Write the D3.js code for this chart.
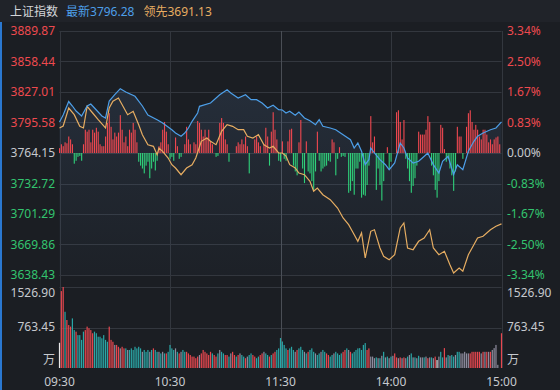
<!DOCTYPE html>
<html>
<head>
<meta charset="utf-8">
<script src="https://cdn.jsdelivr.net/npm/d3@7"></script>
<style>
html,body{margin:0;padding:0;background:#1b1e23;}
svg{display:block;font-family:"Noto Sans","Noto Sans CJK SC",sans-serif;}
</style>
</head>
<body>
<svg id="chart" width="560" height="390"></svg>
<script>
// ---- data ----
var indexName = "上证指数";
var lastLabel = "最新", lastValue = "3796.28";
var leadLabel = "领先", leadValueText = "3691.13";
var baseClose = 3764.15;

var timeTicks = [0, 60, 120, 180, 240];
var timeLabels = ["09:30", "10:30", "11:30", "14:00", "15:00"];
var priceTicks = [3889.87, 3858.44, 3827.01, 3795.58, 3764.15, 3732.72, 3701.29, 3669.86, 3638.43];
var pctLabels = ["3.34%", "2.50%", "1.67%", "0.83%", "0.00%", "-0.83%", "-1.67%", "-2.50%", "-3.34%"];
var volTicks = [1526.90, 763.45];
var volTickLabels = ["1526.90", "763.45"];
var volUnit = "万";

// index line (minute from 09:30, value)
var indexMinutes = [0,2,5,7,9,12,15,17,19,23,25,27,30,33,36,41,45,48,53,56,61,63,66,68,70,72,75,76,82,87,91,93,97,101,104,107,110,113,116,119,
  121,123,125,128,130,133,136,139,141,143,147,150,154,158,160,162,164,166,168,169,171,174,177,179,182,185,187,189,192,195,197,200,203,206,208,211,214,216,219,222,225,227,230,234,237,240];
var indexValues = [3796.10,3803.31,3817.22,3812.58,3807.43,3802.28,3812.58,3814.64,3810.52,3802.28,3800.22,3817.74,3824.23,3830.41,3827.01,3822.58,3812.58,3803.31,3798.47,3795.07,3788.16,3784.76,3781.36,3784.76,3789.91,3796.82,3805.37,3812.27,3815.68,3824.23,3829.38,3825.98,3820.83,3824.23,3819.08,3819.08,3815.68,3810.52,3813.30,3808.77,
  3808.46,3805.37,3807.12,3803.00,3806.40,3800.22,3797.44,3793.31,3798.47,3791.66,3789.91,3788.16,3783.01,3777.86,3769.30,3774.46,3765.90,3752.09,3757.25,3769.30,3764.15,3757.25,3752.09,3746.94,3753.84,3774.46,3769.30,3759.00,3753.84,3755.60,3759.00,3764.15,3752.09,3743.54,3755.60,3760.75,3741.79,3752.09,3746.94,3765.90,3776.21,3781.36,3784.76,3788.16,3789.91,3796.28];

// leading index line
var leadMinutes = [0,2,5,8,11,13,15,18,21,25,27,29,32,35,37,40,43,45,48,51,53,54,56,59,61,63,66,69,72,74,77,80,82,85,88,91,94,97,100,102,105,108,111,114,116,119,
  121,123,125,128,130,133,136,138,140,143,147,151,154,157,159,162,164,166,169,171,174,176,179,182,185,187,189,192,195,198,201,203,206,209,212,214,217,219,222,225,227,230,234,237,240];
var leadValues = [3789.91,3791.97,3810.52,3803.62,3791.66,3789.91,3812.27,3805.37,3798.47,3789.91,3810.52,3817.43,3820.83,3810.52,3803.62,3807.12,3793.31,3783.01,3772.70,3771.05,3762.40,3769.30,3765.90,3759.00,3752.09,3748.69,3741.79,3748.69,3752.09,3759.00,3776.21,3779.61,3776.21,3772.70,3786.51,3793.31,3791.66,3788.16,3788.16,3781.36,3779.61,3783.01,3772.70,3769.30,3771.05,3764.15,
  3764.15,3761.06,3752.09,3748.69,3743.54,3741.79,3734.99,3724.68,3728.08,3721.18,3716.03,3707.47,3697.17,3690.26,3683.46,3673.16,3681.71,3655.95,3683.46,3685.11,3666.25,3657.70,3654.20,3659.35,3686.86,3692.01,3666.25,3664.50,3673.16,3676.56,3685.11,3666.25,3659.35,3662.85,3649.04,3640.49,3645.64,3642.24,3659.35,3669.65,3676.56,3678.31,3685.11,3688.61,3691.13];

// red / green force bars, points above / below the previous close, one per minute
var forceBars = [5,9,7,11,10,17,14,9,-11,-8,
  -4,-3,-8,9,24,22,24,11,24,21,
  26,22,9,7,7,17,31,41,27,14,
  21,17,21,39,24,11,17,7,24,21,
  31,24,11,-9,-13,-16,-21,-13,-9,-26,
  -16,-9,-18,-8,7,11,24,32,22,9,
  -6,-4,-8,16,7,-6,-4,0,9,27,
  14,9,0,11,9,33,31,24,17,24,
  16,24,12,9,0,-4,-3,31,36,31,
  14,9,-9,0,0,0,7,11,9,14,
  9,17,7,-21,0,0,14,17,11,7,
  0,9,26,17,-13,22,42,24,14,-8,
  -9,
  12,-6,-8,12,24,25,-13,-19,-23,11,
  34,-16,-31,12,-19,-21,-29,-39,-19,22,
  -8,-19,-16,-14,-13,-8,-9,14,11,-23,
  -6,6,-4,-3,-4,0,-41,-39,-29,-43,
  -16,-16,-9,-46,-43,-44,-33,-13,38,11,
  17,-38,-16,-33,-49,-29,0,6,-16,-9,
  0,0,42,44,32,14,34,-6,-16,-29,
  -41,-34,-26,-13,22,19,19,19,24,38,
  32,-13,-23,-38,-46,-29,29,26,4,-9,
  -6,-16,-23,-39,-19,27,17,17,-6,0,
  27,41,44,32,24,29,24,17,14,24,
  24,19,11,14,9,14,16,17,9,0];

// volume per minute (万) and its direction: r up, g down, n flat, w auction
var volumes = [475,1450,1526.9,1060,905,810,780,935,715,685,
  620,620,530,685,715,780,750,715,655,685,
  655,590,590,560,620,530,495,780,530,495,
  435,435,400,370,400,370,370,340,340,370,
  340,400,370,400,370,305,340,305,340,305,
  340,370,340,305,305,275,305,275,275,305,
  435,370,340,370,305,275,305,340,305,305,
  275,245,215,215,185,215,245,275,340,
  305,275,245,305,275,245,215,275,340,305,
  275,245,245,215,275,305,245,215,245,275,
  245,215,185,215,245,275,245,215,185,215,
  245,275,305,275,245,215,245,275,305,340,
  370,
  565,500,435,370,340,370,400,340,305,340,
  370,400,340,305,275,305,340,370,305,275,
  245,275,305,340,305,275,245,215,245,275,
  305,275,245,275,305,340,370,340,305,275,
  305,340,370,
  375,340,435,470,340,370,215,215,185,200,
  185,185,230,305,200,215,185,215,230,275,
  200,185,200,185,200,185,215,245,275,200,
  200,185,230,200,200,200,215,185,200,200,
  185,215,150,215,305,200,375,200,245,230,
  245,215,245,305,305,275,275,305,275,275,
  275,305,305,305,305,305,275,305,305,305,
  305,305,340,375,435,60,0,655];
var volDir = ("wrrgrrrggr" + "ggggrrrrrg" + "gggggggrrr" + "nrrnrrgngg" + "gggggngggn" +
  "grggngngrg" + "gggngrnggr" + "rrrrrrnrr" +
  "rrrrgrrgng" + "grrgnrrgrn" + "ggrnggrrgg" + "rrnggrgrrg" + "g" +
  "ggggrgggnr" + "gggngrgggn" + "ggnggrrggn" + "ggggrrgnrg" + "ggg" +
  "ggggrrnnng" + "ngngngngnr" + "rnrnrngngn" + "gngnngnrng" + "nrwnggrngn" +
  "ggnggnnnnn" + "rrrrrrnrnr" + "nrnnnnnr").split("");

// ---- layout ----
var W = 560, H = 390;
var plotL = 59.5, plotR = 501.5, plotT = 31, plotB = 275;
var volT = 287, volB = 368;
var cRed = "#ee4a4f", cGreen = "#33c46f", cGray = "#c6c9ce";
var cBlue = "#4d9fe8", cOrange = "#e6ad62", cGrid = "#33373e";
var volColor = {r: "#e8474f", g: "#2aa6a6", n: "#8e8c9e", w: "#e8e8e8"};

var svg = d3.select("#chart");
svg.append("rect").attr("width", W).attr("height", H).attr("fill", "#1b1e23");
svg.append("rect").attr("width", W).attr("height", 22).attr("fill", "#202329");
svg.append("rect").attr("x", 0).attr("y", 22).attr("width", 2).attr("height", H - 22).attr("fill", "#2a78d0");

var x = d3.scaleLinear().domain([0, 240]).range([plotL, plotR]);
var y = d3.scaleLinear().domain([priceTicks[8], priceTicks[0]]).range([plotB, plotT]);
var yVol = d3.scaleLinear().domain([0, volTicks[0]]).range([volB, volT]);

// grid
var grid = svg.append("g").attr("stroke", cGrid).attr("stroke-width", 1);
grid.selectAll(".h").data(priceTicks).enter().append("line")
  .attr("x1", plotL).attr("x2", plotR)
  .attr("y1", function(d){ return Math.round(y(d)) + 0.5; })
  .attr("y2", function(d){ return Math.round(y(d)) + 0.5; });
grid.selectAll(".v").data(volTicks).enter().append("line")
  .attr("x1", plotL).attr("x2", plotR)
  .attr("y1", function(d){ return Math.round(yVol(d)) + 0.5; })
  .attr("y2", function(d){ return Math.round(yVol(d)) + 0.5; });
grid.selectAll(".t").data(timeTicks).enter().append("line")
  .attr("y1", plotT).attr("y2", volB)
  .attr("x1", function(d){ return Math.round(x(d)) + 0.5; })
  .attr("x2", function(d){ return Math.round(x(d)) + 0.5; })
  .attr("stroke", function(d){ return d === 120 ? "#4a4e55" : cGrid; });

// soft area under the index line
var defs = svg.append("defs");
var grad = defs.append("linearGradient").attr("id", "areaFill").attr("x1", 0).attr("y1", 0).attr("x2", 0).attr("y2", 1);
grad.append("stop").attr("offset", "0%").attr("stop-color", "#5a7fb0").attr("stop-opacity", 0.16);
grad.append("stop").attr("offset", "100%").attr("stop-color", "#5a7fb0").attr("stop-opacity", 0.03);

var indexPts = indexMinutes.map(function(m, i){ return [m, indexValues[i]]; });
var leadPts = leadMinutes.map(function(m, i){ return [m, leadValues[i]]; });

svg.append("path").datum(indexPts)
  .attr("fill", "url(#areaFill)")
  .attr("d", d3.area().x(function(d){ return x(d[0]); }).y0(plotB).y1(function(d){ return y(d[1]); }));

// force bars
svg.append("g").selectAll("rect").data(forceBars).enter().append("rect")
  .attr("x", function(d, i){ return x(i) - 0.5; })
  .attr("width", 1.1)
  .attr("y", function(d){ return Math.min(y(baseClose), y(baseClose + d)); })
  .attr("height", function(d){ return Math.abs(y(baseClose + d) - y(baseClose)); })
  .attr("fill", function(d){ return d >= 0 ? "#f04850" : "#2fd17a"; });

// lines
var line = d3.line().x(function(d){ return x(d[0]); }).y(function(d){ return y(d[1]); });
svg.append("path").datum(leadPts).attr("fill", "none").attr("stroke", cOrange).attr("stroke-width", 1.2).attr("d", line);
svg.append("path").datum(indexPts).attr("fill", "none").attr("stroke", cBlue).attr("stroke-width", 1.2).attr("d", line);

// volume bars
svg.append("g").selectAll("rect").data(volumes).enter().append("rect")
  .attr("x", function(d, i){ return x(i) - 0.6; })
  .attr("width", 1.2)
  .attr("y", function(d){ return yVol(d); })
  .attr("height", function(d){ return volB - yVol(d); })
  .attr("fill", function(d, i){ return volColor[volDir[i]]; });

// axis labels
var labels = svg.append("g").attr("font-size", 12);
labels.selectAll(".pl").data(priceTicks).enter().append("text")
  .attr("x", 55).attr("y", function(d){ return y(d) + 4; })
  .attr("text-anchor", "end")
  .attr("fill", function(d){ return d > baseClose ? cRed : (d < baseClose ? cGreen : cGray); })
  .text(function(d){ return d.toFixed(2); });
labels.selectAll(".pr").data(priceTicks).enter().append("text")
  .attr("x", 507).attr("y", function(d){ return y(d) + 4; })
  .attr("fill", function(d){ return d > baseClose ? cRed : (d < baseClose ? cGreen : cGray); })
  .text(function(d, i){ return pctLabels[i]; });

var volLabelY = [293, 327];
volTickLabels.forEach(function(t, i){
  labels.append("text").attr("x", 55).attr("y", volLabelY[i] + 4).attr("text-anchor", "end").attr("fill", cGray).text(t);
  labels.append("text").attr("x", 507).attr("y", volLabelY[i] + 4).attr("fill", cGray).text(t);
});
labels.append("text").attr("x", 55).attr("y", 364).attr("text-anchor", "end").attr("fill", cGray).text(volUnit);
labels.append("text").attr("x", 507).attr("y", 364).attr("fill", cGray).text(volUnit);

labels.selectAll(".tl").data(timeTicks).enter().append("text")
  .attr("x", function(d){ return x(d); }).attr("y", 386)
  .attr("text-anchor", "middle").attr("fill", cGray)
  .text(function(d, i){ return timeLabels[i]; });

// header
var head = svg.append("text").attr("x", 10).attr("y", 16).attr("font-size", 12);
head.append("tspan").attr("fill", "#d4d6da").text(indexName);
head.append("tspan").attr("dx", 8).attr("fill", cBlue).text(lastLabel + lastValue);
head.append("tspan").attr("dx", 9).attr("fill", cOrange).text(leadLabel + leadValueText);
</script>
</body>
</html>
